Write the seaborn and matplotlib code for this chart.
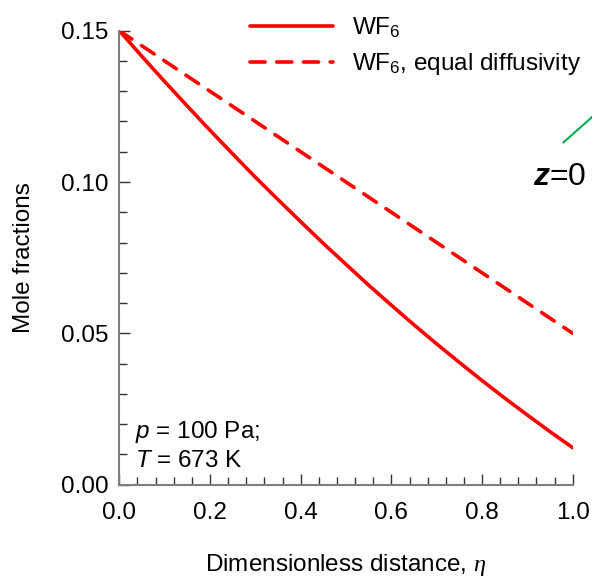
import numpy as np
import pandas as pd
import matplotlib
matplotlib.use("Agg")
import matplotlib.pyplot as plt
import seaborn as sns
from matplotlib.ticker import MultipleLocator, FormatStrFormatter

# Data
eta = [0.00, 0.05, 0.10, 0.15, 0.20, 0.25, 0.30, 0.35, 0.40, 0.45, 0.50,
       0.55, 0.60, 0.65, 0.70, 0.75, 0.80, 0.85, 0.90, 0.95, 1.00]
wf6 = [0.1500, 0.1415, 0.1332, 0.1251, 0.1171, 0.1093, 0.1016, 0.0942, 0.0869, 0.0797, 0.0728,
       0.0659, 0.0593, 0.0528, 0.0465, 0.0404, 0.0344, 0.0286, 0.0230, 0.0175, 0.0122]
eta_equal = [0.0, 0.5, 1.0]
wf6_equal = [0.150, 0.100, 0.050]
series_names = ["WF$_6$", "WF$_6$, equal diffusivity"]

sns.set_theme(style="ticks")
plt.rcParams['font.family'] = ['Liberation Sans', 'DejaVu Sans']
plt.rcParams['text.color'] = 'black'
plt.rcParams['axes.labelcolor'] = 'black'
plt.rcParams['mathtext.fontset'] = 'custom'
plt.rcParams['mathtext.rm'] = 'Liberation Sans'
plt.rcParams['mathtext.it'] = 'Liberation Serif:italic'
plt.rcParams['mathtext.sf'] = 'Liberation Sans:italic'
plt.rcParams['mathtext.bf'] = 'Liberation Sans:italic:bold'

FS = 17.5

df = pd.concat([
    pd.DataFrame({'eta': eta, 'x': wf6, 'series': series_names[0]}),
    pd.DataFrame({'eta': eta_equal, 'x': wf6_equal, 'series': series_names[1]}),
])

fig = plt.figure(figsize=(5.92, 5.77), dpi=100)
ax = fig.add_axes([0.2015, 0.160, 0.766, 0.7868])

sns.lineplot(data=df, x='eta', y='x', hue='series', style='series',
             palette=['#ff0000', '#ff0000'], dashes=[(None, None), (4.2, 3.2)],
             linewidth=2.6, ax=ax, legend=True)
for line in ax.get_lines():
    line.set_dash_capstyle('round')
    line.set_solid_capstyle('round')

ax.set_xlim(0, 1.0)
ax.set_ylim(0, 0.15)
ax.xaxis.set_major_locator(MultipleLocator(0.2))
ax.xaxis.set_minor_locator(MultipleLocator(0.04))
ax.yaxis.set_major_locator(MultipleLocator(0.05))
ax.yaxis.set_minor_locator(MultipleLocator(0.01))
ax.xaxis.set_major_formatter(FormatStrFormatter('%.1f'))
ax.yaxis.set_major_formatter(FormatStrFormatter('%.2f'))

sns.despine(ax=ax)
for s in ['left', 'bottom']:
    ax.spines[s].set_color('#7f7f7f')
    ax.spines[s].set_linewidth(1.5)
ax.tick_params(which='both', direction='in', color='#333333', width=1.0,
               labelsize=FS, labelcolor='black')
ax.tick_params(which='major', length=8)
ax.tick_params(which='minor', length=6)
ax.tick_params(axis='x', which='major', pad=12.5)
ax.tick_params(axis='y', which='major', pad=8)

ax.set_xlabel('Dimensionless distance, $\\eta$', fontsize=FS, labelpad=20)
ax.set_ylabel('Mole fractions', fontsize=FS, labelpad=18.5)

handles, labels = ax.get_legend_handles_labels()
ax.legend(handles, labels, loc='upper left', bbox_to_anchor=(0.240, 1.081),
          frameon=False, fontsize=FS, handlelength=3.4, handletextpad=0.8,
          labelspacing=0.45)

ax.text(0.035, 0.103, '$\\mathsf{p}$ = 100 Pa;', transform=ax.transAxes,
        fontsize=FS, va='baseline', ha='left')
ax.text(0.035, 0.039, '$\\mathsf{T}$ = 673 K', transform=ax.transAxes,
        fontsize=FS, va='baseline', ha='left')

# label and connector fragment at the right edge
ax.text(0.912, 0.660, '$\\mathbf{z}$=0', transform=ax.transAxes,
        fontsize=23, ha='left', va='baseline')
ax.plot([0.979, 1.045], [0.7535, 0.812], transform=ax.transAxes,
        color='#00b050', linewidth=1.5, clip_on=False)

fig.savefig('out.png', dpi=100)
